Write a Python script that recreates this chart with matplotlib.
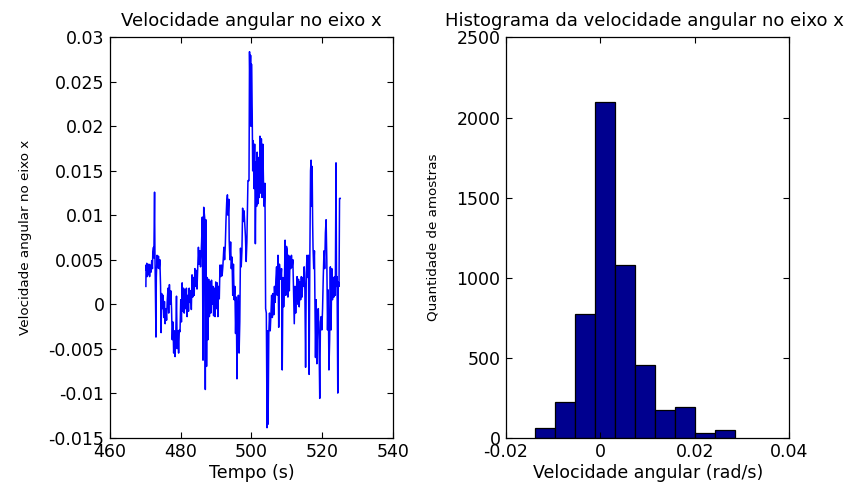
import matplotlib
matplotlib.use("Agg")
import matplotlib.pyplot as plt
import numpy as np

plt.rcParams["font.family"] = ["DejaVu Sans"]
plt.rcParams["axes.unicode_minus"] = False

# Angular velocity about the x axis (rad/s) over time (s)
tempo = [
    470.15, 470.2, 470.3, 470.4, 470.5, 470.6, 470.8, 471.0, 471.2, 471.4, 471.6, 471.8,
    472.0, 472.1, 472.3, 472.4, 472.6, 472.7, 473.0, 473.1, 473.3, 473.5, 473.7, 473.9, 474.1,
    474.3, 474.45, 474.6, 474.8, 475.0, 475.2, 475.4, 475.6, 475.8, 476.0,
    476.2, 476.4, 476.6, 476.8, 477.0, 477.2,
    477.4, 477.6, 477.8, 478.0, 478.2, 478.4, 478.6, 478.8,
    479.0, 479.2, 479.4, 479.6,
    479.8, 480.0, 480.2, 480.4, 480.6, 480.8, 481.0,
    481.2, 481.4, 481.6, 481.8, 482.0, 482.2, 482.4, 482.6, 482.8, 483.0,
    483.2, 483.4, 483.6, 483.8,
    484.0, 484.2, 484.4, 484.6, 484.8,
    485.0, 485.2, 485.4, 485.6,
    485.9, 486.1, 486.3, 486.5, 486.8, 486.95, 487.1,
    487.3, 487.5, 487.7,
    487.9, 488.1, 488.3, 488.5, 488.7, 488.9, 489.1, 489.3, 489.5,
    489.7, 489.9, 490.1, 490.3, 490.5, 490.7, 490.9,
    491.1, 491.3, 491.5, 491.7, 491.9,
    492.2, 492.4, 492.6,
    492.8, 493.0, 493.2, 493.4, 493.6,
    493.7, 493.9, 494.1, 494.3,
    494.5, 494.7, 494.9, 495.1,
    495.3, 495.5, 495.7, 495.9, 496.1,
    496.3, 496.5, 496.7,
    496.9, 497.1, 497.3,
    497.5, 497.7, 497.9, 498.1,
    498.3, 498.5, 498.7,
    499.0, 499.3, 499.45, 499.6, 499.75, 499.9, 500.0, 500.2, 500.35,
    500.5, 500.7, 500.9,
    501.1, 501.3, 501.45, 501.6, 501.8, 502.0,
    502.2, 502.4, 502.6, 502.8, 503.0, 503.2,
    503.4, 503.6, 503.8, 504.0, 504.2,
    504.4, 504.55, 504.7,
    504.9, 505.1, 505.3, 505.5, 505.7, 505.9,
    506.1, 506.3, 506.5, 506.7, 506.9,
    507.1, 507.3, 507.5, 507.7, 507.9,
    508.1, 508.3, 508.5, 508.7, 508.9,
    509.1, 509.3, 509.5, 509.7, 509.9,
    510.1, 510.3, 510.5, 510.7,
    510.9, 511.1, 511.3, 511.5, 511.7,
    511.9, 512.1, 512.3, 512.5, 512.7,
    512.9, 513.1, 513.3, 513.5, 513.7, 513.9, 514.1, 514.3, 514.5,
    514.7, 514.9, 515.1, 515.3, 515.5,
    515.7, 515.9, 516.1, 516.3, 516.5,
    516.7, 516.85, 517.0, 517.15, 517.3,
    517.4, 517.6, 517.8,
    517.9, 518.1, 518.3, 518.5, 518.7,
    518.9, 519.1, 519.3, 519.5, 519.7, 519.9, 520.1,
    520.3, 520.5, 520.7, 520.9, 521.1, 521.3,
    521.5, 521.7, 521.9, 522.1,
    522.3, 522.5, 522.7, 522.9, 523.1,
    523.3, 523.5, 523.7,
    523.9, 524.05, 524.2, 524.4, 524.55, 524.75, 524.9, 525.1,
]

velocidade = [
    0.0020, 0.0044, 0.0038, 0.0046, 0.0031, 0.0042, 0.0033, 0.0045, 0.0031, 0.0044, 0.0036, 0.0049,
    0.0040, 0.0058, 0.0064, 0.0052, 0.0126, 0.0060, -0.0037, 0.0030, 0.0055, 0.0041, 0.0054, 0.0040, 0.0050,
    0.0020, -0.0032, 0.0012, -0.0005, 0.0010, -0.0015, 0.0003, -0.0022, -0.0005, -0.0018,
    0.0005, 0.0018, -0.0010, 0.0022, 0.0000, 0.0015,
    -0.0005, -0.0040, -0.0020, -0.0055, -0.0030, -0.0059, -0.0035, 0.0009,
    -0.0050, -0.0030, -0.0055, -0.0029,
    -0.0031, 0.0005, -0.0020, 0.0024, -0.0008, 0.0018, -0.0010,
    0.0016, -0.0005, 0.0018, -0.0014, 0.0010, -0.0008, 0.0018, 0.0002, 0.0015, -0.0006,
    0.0033, 0.0008, 0.0030, 0.0010,
    0.0040, 0.0020, 0.0038, 0.0017, 0.0042,
    0.0064, 0.0045, 0.0060, 0.0042,
    0.0070, 0.0098, -0.0063, 0.0109, 0.0096, -0.0096, 0.0095,
    -0.0070, 0.0030, -0.0040,
    0.0028, -0.0014, 0.0025, -0.0010, 0.0027, 0.0000, 0.0020, -0.0013, 0.0018,
    -0.0014, 0.0025, -0.0005, 0.0024, -0.0014, 0.0020, 0.0006,
    0.0044, 0.0031, 0.0044, 0.0032, 0.0042,
    0.0064, 0.0050, 0.0066,
    0.0095, 0.0115, 0.0123, 0.0100, 0.0118,
    0.0072, 0.0050, 0.0070, 0.0040,
    0.0053, 0.0010, 0.0045, 0.0005,
    0.0020, -0.0033, 0.0008, -0.0084, -0.0010,
    0.0010, -0.0055, -0.0020,
    0.0063, 0.0042, 0.0060,
    0.0108, 0.0093, 0.0105, 0.0091,
    0.0076, 0.0048, 0.0070,
    0.0139, 0.0139, 0.0284, 0.0240, 0.0280, 0.0200, 0.0270, 0.0218, 0.0150,
    0.0184, 0.0130, 0.0180,
    0.0068, 0.0160, 0.0110, 0.0171, 0.0113, 0.0165,
    0.0120, 0.0189, 0.0125, 0.0186, 0.0120, 0.0180,
    0.0136, 0.0110, 0.0136, -0.0005, -0.0010,
    -0.0139, -0.0030, -0.0135,
    -0.0033, -0.0010, -0.0030, -0.0012, 0.0010, -0.0015,
    0.0012, -0.0012, 0.0020, 0.0002, 0.0028,
    0.0042, 0.0010, 0.0055, -0.0026, 0.0045,
    0.0035, 0.0028, 0.0040, -0.0074, 0.0030,
    -0.0003, 0.0020, 0.0072, 0.0010, 0.0065,
    0.0061, 0.0008, 0.0055, 0.0015,
    0.0053, 0.0040, 0.0055, 0.0042, 0.0050,
    0.0016, -0.0022, 0.0020, -0.0010, 0.0015,
    0.0031, 0.0000, 0.0028, -0.0003, 0.0025, 0.0005, 0.0031, 0.0008, 0.0030,
    0.0020, 0.0042, 0.0016, -0.0071, 0.0035,
    0.0055, 0.0030, 0.0055, -0.0079, 0.0050,
    0.0150, 0.0162, 0.0110, 0.0155, 0.0090,
    0.0064, 0.0040, 0.0060,
    0.0016, -0.0060, 0.0005, -0.0067, -0.0010,
    -0.0005, -0.0040, -0.0106, -0.0020, -0.0014, -0.0029, -0.0005,
    0.0031, 0.0060, 0.0040, 0.0080, 0.0095, 0.0050,
    -0.0029, 0.0016, -0.0074, -0.0040,
    0.0042, -0.0029, 0.0040, 0.0005, 0.0030,
    0.0008, 0.0031, 0.0010,
    0.0159, 0.0020, 0.0031, -0.0100, 0.0025, 0.0020, 0.0119, 0.0119,
]

# Histogram of the same signal: 10 bins between min and max
bordas_bins = [-0.0139, -0.00967, -0.00544, -0.00121, 0.00302, 0.00725,
               0.01148, 0.01571, 0.01994, 0.02417, 0.0284]
contagens = [58, 219, 771, 2100, 1077, 454, 169, 192, 27, 50]

# Axis ticks and labels
xt_tempo = [460, 480, 500, 520, 540]
yt_vel = [-0.015, -0.01, -0.005, 0, 0.005, 0.01, 0.015, 0.02, 0.025, 0.03]
yt_vel_labels = ["-0.015", "-0.01", "-0.005", "0", "0.005", "0.01",
                 "0.015", "0.02", "0.025", "0.03"]
xt_hist = [-0.02, 0, 0.02, 0.04]
xt_hist_labels = ["-0.02", "0", "0.02", "0.04"]
yt_hist = [0, 500, 1000, 1500, 2000, 2500]

TICK_FS = 12.5
LABEL_FS = 12.5
TITLE_FS = 13
YLABEL_FS = 9.7

fig = plt.figure(figsize=(8.5, 4.82), dpi=100)
fig.patch.set_facecolor("white")

ax1 = fig.add_axes([0.1294, 0.0923, 0.3329, 0.8299])
ax2 = fig.add_axes([0.5953, 0.0923, 0.3335, 0.8299])


def style(ax):
    for s in ax.spines.values():
        s.set_linewidth(0.9)
        s.set_color("black")
    ax.tick_params(direction="in", length=4, width=0.8, top=True, right=True,
                   labelsize=TICK_FS, pad=4, colors="black")


n = min(len(tempo), len(velocidade))
ax1.plot(tempo[:n], velocidade[:n], color="#0000FF", linewidth=1.1)
ax1.set_xlim(460, 540)
ax1.set_ylim(-0.015, 0.03)
ax1.set_xticks(xt_tempo)
ax1.set_yticks(yt_vel)
ax1.set_yticklabels(yt_vel_labels)
ax1.set_title("Velocidade angular no eixo x", fontsize=TITLE_FS, pad=8)
ax1.set_xlabel("Tempo (s)", fontsize=LABEL_FS, labelpad=2)
ax1.set_ylabel("Velocidade angular no eixo x", fontsize=YLABEL_FS, labelpad=12)
style(ax1)

larguras = np.diff(bordas_bins)
ax2.bar(bordas_bins[:-1], contagens, width=larguras, align="edge",
        color="#00008F", edgecolor="black", linewidth=0.9)
ax2.set_xlim(-0.02, 0.04)
ax2.set_ylim(0, 2500)
ax2.set_xticks(xt_hist)
ax2.set_xticklabels(xt_hist_labels)
ax2.set_yticks(yt_hist)
ax2.set_title("Histograma da velocidade angular no eixo x", fontsize=TITLE_FS,
              pad=8, x=0.49)
ax2.set_xlabel("Velocidade angular (rad/s)", fontsize=LABEL_FS, labelpad=2)
ax2.set_ylabel("Quantidade de amostras", fontsize=YLABEL_FS, labelpad=12)
style(ax2)

fig.savefig("out.png", dpi=100, facecolor="white")
